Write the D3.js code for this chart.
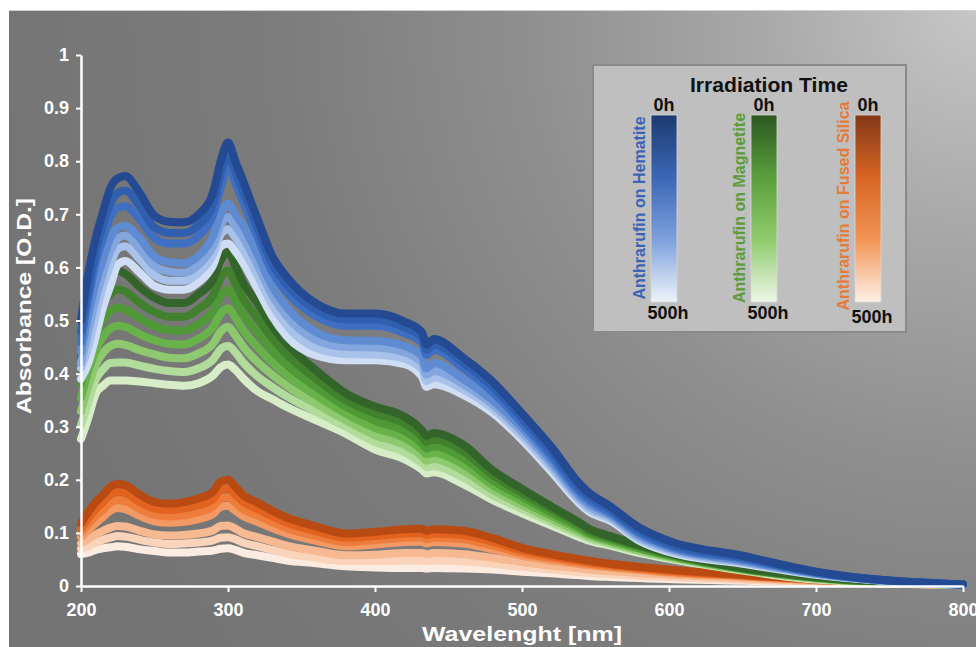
<!DOCTYPE html>
<html>
<head>
<meta charset="utf-8">
<script src="https://cdnjs.cloudflare.com/ajax/libs/d3/7.8.5/d3.min.js"></script>
<style>
  body { margin: 0; background: #fff; }
  svg { display: block; font-family: "Liberation Sans", Arial, sans-serif; }
</style>
</head>
<body>
<svg id="chart" width="976" height="647"></svg>
<script>
// wavelength grid (nm) shared by all spectra
const wavelengths = [200, 205, 210, 215, 220, 225, 230, 240, 250, 260, 270, 280, 290, 295, 300, 305, 310, 320, 330, 340,
  360, 380, 400, 420, 432, 435, 440, 460, 480, 500, 520, 540, 545, 560, 580, 600, 650, 700, 800];

// Anthrarufin on Hematite, 0h -> 500h
const hematite = [
  [0.50, 0.59, 0.655, 0.705, 0.75, 0.768, 0.772, 0.74, 0.697, 0.686, 0.685, 0.70, 0.742, 0.80, 0.835, 0.80, 0.765, 0.692, 0.622, 0.582, 0.532, 0.513, 0.513, 0.498, 0.478, 0.455, 0.465, 0.43, 0.385, 0.325, 0.262, 0.19, 0.177, 0.15, 0.11, 0.085, 0.057, 0.027, 0.003],
  [0.48, 0.56, 0.63, 0.68, 0.72, 0.74, 0.745, 0.715, 0.675, 0.665, 0.665, 0.68, 0.72, 0.775, 0.812, 0.78, 0.745, 0.675, 0.607, 0.568, 0.52, 0.502, 0.502, 0.487, 0.468, 0.445, 0.455, 0.42, 0.375, 0.316, 0.253, 0.182, 0.17, 0.144, 0.105, 0.08, 0.054, 0.026, 0.003],
  [0.46, 0.54, 0.61, 0.655, 0.695, 0.712, 0.715, 0.69, 0.655, 0.645, 0.645, 0.66, 0.70, 0.75, 0.79, 0.76, 0.725, 0.658, 0.592, 0.554, 0.508, 0.49, 0.49, 0.476, 0.458, 0.435, 0.445, 0.41, 0.365, 0.307, 0.244, 0.175, 0.163, 0.139, 0.10, 0.076, 0.051, 0.025, 0.002],
  [0.44, 0.51, 0.57, 0.615, 0.655, 0.675, 0.678, 0.655, 0.62, 0.61, 0.608, 0.622, 0.66, 0.70, 0.72, 0.70, 0.68, 0.625, 0.565, 0.525, 0.478, 0.463, 0.462, 0.452, 0.433, 0.41, 0.42, 0.39, 0.35, 0.298, 0.236, 0.169, 0.157, 0.135, 0.096, 0.073, 0.048, 0.024, 0.002],
  [0.42, 0.48, 0.54, 0.59, 0.63, 0.655, 0.66, 0.635, 0.602, 0.592, 0.59, 0.605, 0.642, 0.68, 0.695, 0.678, 0.658, 0.605, 0.548, 0.508, 0.463, 0.45, 0.449, 0.44, 0.42, 0.398, 0.405, 0.38, 0.342, 0.29, 0.229, 0.163, 0.151, 0.131, 0.092, 0.07, 0.046, 0.023, 0.002],
  [0.41, 0.45, 0.51, 0.565, 0.605, 0.635, 0.64, 0.615, 0.585, 0.575, 0.575, 0.59, 0.625, 0.662, 0.672, 0.656, 0.636, 0.585, 0.53, 0.49, 0.448, 0.437, 0.436, 0.428, 0.407, 0.386, 0.392, 0.37, 0.334, 0.282, 0.222, 0.158, 0.146, 0.127, 0.088, 0.067, 0.044, 0.022, 0.002],
  [0.39, 0.42, 0.47, 0.525, 0.565, 0.605, 0.612, 0.59, 0.565, 0.558, 0.558, 0.572, 0.605, 0.64, 0.645, 0.63, 0.61, 0.56, 0.508, 0.47, 0.434, 0.425, 0.425, 0.418, 0.394, 0.375, 0.38, 0.36, 0.326, 0.275, 0.215, 0.153, 0.141, 0.123, 0.085, 0.064, 0.042, 0.021, 0.002]
];

// Anthrarufin on Magnetite, 0h -> 500h
const magnetite = [
  [0.433, 0.493, 0.523, 0.563, 0.583, 0.593, 0.588, 0.563, 0.543, 0.533, 0.533, 0.55, 0.578, 0.613, 0.629, 0.603, 0.573, 0.533, 0.49, 0.456, 0.406, 0.363, 0.338, 0.319, 0.293, 0.283, 0.288, 0.266, 0.218, 0.183, 0.15, 0.118, 0.109, 0.094, 0.077, 0.062, 0.034, 0.017, 0.003],
  [0.407, 0.464, 0.496, 0.532, 0.55, 0.559, 0.555, 0.533, 0.516, 0.507, 0.507, 0.522, 0.548, 0.58, 0.594, 0.57, 0.543, 0.505, 0.467, 0.436, 0.39, 0.35, 0.325, 0.306, 0.281, 0.271, 0.276, 0.254, 0.209, 0.175, 0.144, 0.114, 0.105, 0.091, 0.075, 0.06, 0.033, 0.016, 0.003],
  [0.381, 0.434, 0.469, 0.501, 0.518, 0.524, 0.521, 0.504, 0.489, 0.482, 0.481, 0.494, 0.518, 0.546, 0.558, 0.538, 0.513, 0.478, 0.444, 0.416, 0.375, 0.338, 0.311, 0.292, 0.268, 0.259, 0.263, 0.241, 0.199, 0.168, 0.138, 0.109, 0.101, 0.088, 0.072, 0.058, 0.033, 0.016, 0.003],
  [0.355, 0.405, 0.443, 0.47, 0.485, 0.49, 0.488, 0.474, 0.463, 0.456, 0.455, 0.466, 0.488, 0.513, 0.523, 0.505, 0.483, 0.45, 0.421, 0.397, 0.359, 0.325, 0.298, 0.279, 0.256, 0.248, 0.251, 0.229, 0.19, 0.16, 0.132, 0.105, 0.098, 0.085, 0.07, 0.057, 0.032, 0.015, 0.002],
  [0.329, 0.376, 0.416, 0.439, 0.452, 0.456, 0.454, 0.444, 0.436, 0.43, 0.429, 0.438, 0.457, 0.479, 0.488, 0.472, 0.452, 0.422, 0.398, 0.377, 0.343, 0.312, 0.284, 0.266, 0.244, 0.236, 0.239, 0.217, 0.181, 0.152, 0.126, 0.1, 0.094, 0.082, 0.067, 0.055, 0.031, 0.014, 0.002],
  [0.303, 0.346, 0.389, 0.408, 0.42, 0.421, 0.421, 0.415, 0.409, 0.405, 0.403, 0.41, 0.427, 0.446, 0.452, 0.44, 0.422, 0.395, 0.375, 0.357, 0.328, 0.3, 0.271, 0.252, 0.231, 0.224, 0.226, 0.204, 0.171, 0.145, 0.12, 0.096, 0.09, 0.079, 0.065, 0.053, 0.03, 0.013, 0.002],
  [0.277, 0.317, 0.362, 0.377, 0.387, 0.387, 0.387, 0.385, 0.382, 0.379, 0.377, 0.382, 0.397, 0.412, 0.417, 0.407, 0.392, 0.367, 0.352, 0.337, 0.312, 0.287, 0.257, 0.239, 0.219, 0.212, 0.214, 0.192, 0.162, 0.137, 0.114, 0.091, 0.086, 0.076, 0.062, 0.051, 0.029, 0.012, 0.002]
];

// Anthrarufin on Fused Silica, 0h -> 500h
const fusedSilica = [
  [0.118, 0.14, 0.158, 0.172, 0.187, 0.192, 0.19, 0.172, 0.158, 0.155, 0.158, 0.165, 0.178, 0.197, 0.2, 0.187, 0.172, 0.157, 0.142, 0.129, 0.112, 0.099, 0.102, 0.107, 0.108, 0.104, 0.107, 0.104, 0.09, 0.072, 0.06, 0.05, 0.048, 0.042, 0.036, 0.031, 0.021, 0.012, 0.003],
  [0.108, 0.128, 0.145, 0.158, 0.172, 0.177, 0.175, 0.158, 0.146, 0.143, 0.146, 0.152, 0.164, 0.181, 0.184, 0.172, 0.159, 0.145, 0.131, 0.119, 0.103, 0.091, 0.094, 0.099, 0.1, 0.096, 0.099, 0.096, 0.083, 0.067, 0.056, 0.047, 0.045, 0.04, 0.034, 0.029, 0.02, 0.012, 0.003],
  [0.1, 0.117, 0.132, 0.144, 0.157, 0.162, 0.16, 0.145, 0.134, 0.131, 0.133, 0.139, 0.15, 0.165, 0.167, 0.157, 0.145, 0.133, 0.12, 0.109, 0.094, 0.083, 0.086, 0.091, 0.092, 0.088, 0.091, 0.088, 0.076, 0.062, 0.052, 0.044, 0.042, 0.037, 0.032, 0.027, 0.019, 0.011, 0.003],
  [0.092, 0.105, 0.118, 0.13, 0.142, 0.147, 0.145, 0.132, 0.122, 0.119, 0.121, 0.126, 0.136, 0.149, 0.151, 0.142, 0.132, 0.121, 0.109, 0.099, 0.085, 0.075, 0.078, 0.083, 0.084, 0.08, 0.083, 0.08, 0.069, 0.057, 0.048, 0.041, 0.039, 0.035, 0.03, 0.025, 0.018, 0.011, 0.002],
  [0.08, 0.088, 0.097, 0.104, 0.11, 0.113, 0.112, 0.104, 0.097, 0.095, 0.096, 0.099, 0.105, 0.113, 0.114, 0.108, 0.1, 0.092, 0.084, 0.076, 0.066, 0.058, 0.059, 0.062, 0.062, 0.06, 0.062, 0.06, 0.053, 0.045, 0.038, 0.033, 0.031, 0.028, 0.024, 0.021, 0.015, 0.009, 0.002],
  [0.07, 0.075, 0.082, 0.087, 0.091, 0.094, 0.093, 0.087, 0.082, 0.079, 0.08, 0.082, 0.086, 0.091, 0.092, 0.088, 0.082, 0.075, 0.068, 0.061, 0.053, 0.047, 0.047, 0.048, 0.048, 0.047, 0.048, 0.046, 0.042, 0.036, 0.031, 0.026, 0.025, 0.022, 0.019, 0.017, 0.012, 0.008, 0.002],
  [0.06, 0.063, 0.068, 0.071, 0.073, 0.075, 0.074, 0.069, 0.066, 0.063, 0.063, 0.065, 0.067, 0.07, 0.071, 0.068, 0.063, 0.058, 0.053, 0.048, 0.043, 0.037, 0.035, 0.034, 0.034, 0.033, 0.034, 0.033, 0.031, 0.027, 0.024, 0.02, 0.019, 0.017, 0.015, 0.013, 0.01, 0.007, 0.002]
];

const blues = ['#234a92', '#2f5fae', '#3f6fc2', '#5f8bd2', '#83a6de', '#a8c2ea', '#cfdef4'];
const greens = ['#33652a', '#41812d', '#4f9a36', '#68b24a', '#8ec86f', '#b2dc9c', '#d6edc8'];
const oranges = ['#b84a12', '#e2621f', '#ee7d3c', '#f39a64', '#f6b991', '#f9d3ba', '#fcebe0'];

const xTicks = [200, 300, 400, 500, 600, 700, 800];
const yTicks = [0, 0.1, 0.2, 0.3, 0.4, 0.5, 0.6, 0.7, 0.8, 0.9, 1];

const legendItems = [
  {label: 'Anthrarufin on Hematite', text: '#3b64b6', stops: ['#1d3b70', '#3a66b6', '#7ea1dc', '#eef3fb']},
  {label: 'Anthrarufin on Magnetite', text: '#5c9c3c', stops: ['#2c5820', '#5a9f3c', '#8fcb6c', '#eef7e8']},
  {label: 'Anthrarufin on Fused Silica', text: '#e67a38', stops: ['#833817', '#d86524', '#f29556', '#fdf0e6']}
];

const svg = d3.select('#chart');
const width = +svg.attr('width');
const height = +svg.attr('height');

const defs = svg.append('defs');
const bg = defs.append('radialGradient')
    .attr('id', 'bg')
    .attr('gradientUnits', 'userSpaceOnUse')
    .attr('cx', width).attr('cy', 10).attr('r', 1000);
[[0, '#c6c6c6'], [0.22, '#a8a8a8'], [0.45, '#8f8f8f'], [0.7, '#7c7c7c'], [1, '#747474']].forEach(s => {
  bg.append('stop').attr('offset', s[0]).attr('stop-color', s[1]);
});

svg.append('rect')
    .attr('x', 9).attr('y', 10)
    .attr('width', width - 9).attr('height', height - 10)
    .attr('fill', 'url(#bg)');
svg.append('line')
    .attr('x1', 9).attr('x2', width).attr('y1', 10.5).attr('y2', 10.5)
    .attr('stroke', '#cfcfcf').attr('stroke-width', 1);

const x = d3.scaleLinear().domain([200, 800]).range([81, 963]);
const y = d3.scaleLinear().domain([0, 1]).range([586, 55]);

const line = d3.line()
    .x(d => x(d[0]))
    .y(d => y(d[1]))
    .curve(d3.curveMonotoneX);

function drawFamily(series, colors, cls) {
  const g = svg.append('g').attr('class', cls);
  // lightest drawn first so the 0h spectrum sits on top
  const rows = series.map((s, i) => ({s: s, c: colors[i]})).reverse();
  g.selectAll('path')
    .data(rows)
    .enter().append('path')
    .attr('d', r => line(wavelengths.map((w, i) => [w, r.s[i]]).filter(p => p[1] != null)))
    .attr('fill', 'none')
    .attr('stroke', r => r.c)
    .attr('stroke-width', 8)
    .attr('stroke-linejoin', 'round')
    .attr('stroke-linecap', 'round');
}

drawFamily(fusedSilica, oranges, 'silica');
drawFamily(magnetite, greens, 'magnetite');
drawFamily(hematite, blues, 'hematite');

// axes
const xAxis = svg.append('g')
    .attr('transform', 'translate(0,' + y(0) + ')')
    .call(d3.axisBottom(x).tickValues(xTicks).tickSize(6).tickSizeOuter(0).tickPadding(11));
const yAxis = svg.append('g')
    .attr('transform', 'translate(' + x(200) + ',0)')
    .call(d3.axisLeft(y).tickValues(yTicks).tickSize(5).tickSizeOuter(0).tickPadding(7)
      .tickFormat(d => d3.format('')(+d.toFixed(1))));

[xAxis, yAxis].forEach(a => {
  a.select('.domain').attr('stroke', '#fff').attr('stroke-width', 2.5);
  a.selectAll('.tick line').attr('stroke', '#fff').attr('stroke-width', 2);
  a.selectAll('.tick text')
    .attr('fill', '#fff')
    .style('font-size', '18px')
    .style('font-weight', 'bold');
});

svg.append('text')
    .attr('x', 522).attr('y', 641)
    .attr('text-anchor', 'middle')
    .attr('fill', '#fff')
    .attr('textLength', 200)
    .attr('lengthAdjust', 'spacingAndGlyphs')
    .style('font-size', '21px').style('font-weight', 'bold')
    .text('Wavelenght [nm]');

svg.append('text')
    .attr('transform', 'translate(31,306) rotate(-90)')
    .attr('text-anchor', 'middle')
    .attr('fill', '#fff')
    .attr('textLength', 216)
    .attr('lengthAdjust', 'spacingAndGlyphs')
    .style('font-size', '21px').style('font-weight', 'bold')
    .text('Absorbance [O.D.]');

// legend
const lg = svg.append('g').attr('class', 'legend');
lg.append('rect')
    .attr('x', 593).attr('y', 65).attr('width', 313).attr('height', 267)
    .attr('fill', '#bfbfbf')
    .attr('stroke', '#8a8a8a').attr('stroke-width', 2);
lg.append('text')
    .attr('x', 769).attr('y', 92)
    .attr('text-anchor', 'middle')
    .attr('fill', '#111')
    .attr('textLength', 158)
    .attr('lengthAdjust', 'spacingAndGlyphs')
    .style('font-size', '20px').style('font-weight', 'bold')
    .text('Irradiation Time');

const barX = [651, 751, 855];
legendItems.forEach((item, i) => {
  const grad = defs.append('linearGradient')
      .attr('id', 'lg' + i)
      .attr('x1', 0).attr('x2', 0).attr('y1', 0).attr('y2', 1);
  item.stops.forEach((c, j) => {
    grad.append('stop').attr('offset', j / (item.stops.length - 1)).attr('stop-color', c);
  });
  const bx = barX[i];
  lg.append('rect')
      .attr('x', bx).attr('y', 115).attr('width', 26).attr('height', 187)
      .attr('fill', 'url(#lg' + i + ')')
      .attr('stroke', '#d8d8d8').attr('stroke-width', 0.8);
  lg.append('text')
      .attr('x', bx + 13).attr('y', 111)
      .attr('text-anchor', 'middle')
      .attr('fill', '#111')
      .style('font-size', '18px').style('font-weight', 'bold')
      .text('0h');
  lg.append('text')
      .attr('x', bx + 17).attr('y', i === 2 ? 323 : 319)
      .attr('text-anchor', 'middle')
      .attr('fill', '#111')
      .style('font-size', '18px').style('font-weight', 'bold')
      .text('500h');
  lg.append('text')
      .attr('transform', 'translate(' + (bx - 6) + ',' + (i === 2 ? 206 : 208) + ') rotate(-90)')
      .attr('text-anchor', 'middle')
      .attr('fill', item.text)
      .style('font-size', '16px').style('font-weight', 'bold')
      .text(item.label);
});
</script>
</body>
</html>
